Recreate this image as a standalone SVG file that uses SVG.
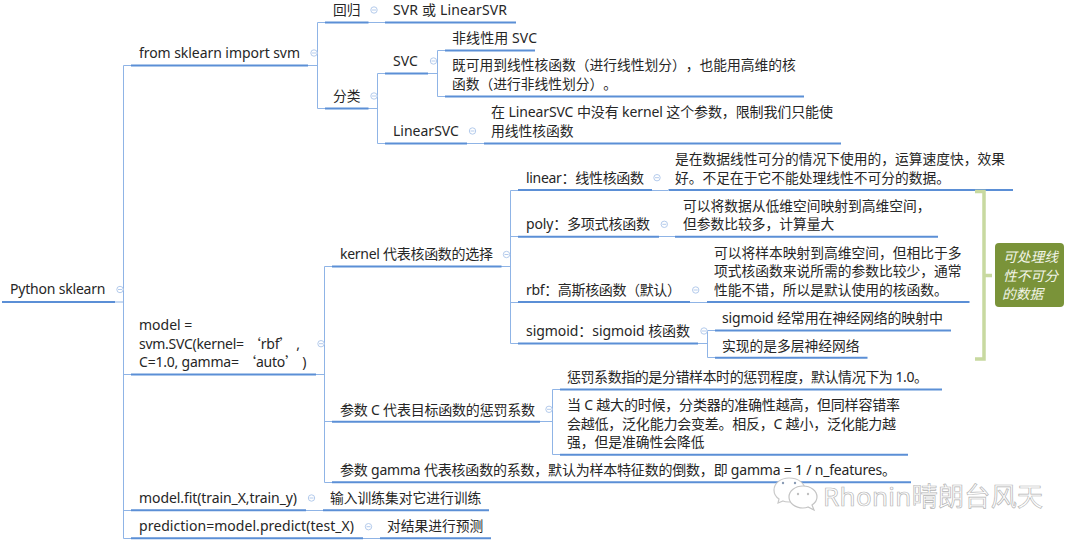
<svg xmlns="http://www.w3.org/2000/svg" width="1080" height="542" viewBox="0 0 1080 542" xml:lang="zh-CN">
<style>
text{font-family:"Noto Sans","Noto Sans CJK SC",sans-serif;font-size:14px;fill:#262626;text-spacing-trim:space-all}
text.z{font-size:13.75px}
.c{font-family:"Noto Sans CJK SC",sans-serif}
.k{stroke:#8fb4e6;stroke-width:1;fill:none}
.u{stroke:#5b8fd6;stroke-width:2;fill:none}
.i{fill:#fff;stroke:#b4cbec;stroke-width:1}
.m{stroke:#b4cbec;stroke-width:1}
.b{stroke:#c8d9a0;stroke-width:3.500;fill:none}
text.n{font-size:13.75px;fill:#f2f5e8;font-style:italic}
text.w{font-size:26px;fill:#fff;stroke:#b5b5b5;stroke-width:.7}
</style>
<defs><g id="tg"><circle class="i" r="3.2"/><path class="m" d="M-2 0H2"/></g></defs>
<rect width="1080" height="542" fill="#fff"/>
<g id="connectors">
<path class="k" d="M115 302H123.500M131 65.500H123.500V538.500H131M123.500 374.500H131M123.500 510.500H131"/>
<path class="k" d="M308 65.500H317.500M325 22.500H317.500V108.500H325M368 22.500H385M368 108.500H377.500M385 73.500H377.500V143.500H385M428 73.500H437.500M445 50.500H437.500V96.500H445M467 143.500H484"/>
<path class="k" d="M316 374.500H324.500M332 266.500H324.500V482.500H332M324.500 421.500H332"/>
<path class="k" d="M501 266.500H510.500M518 190.500H510.500V343.500H518M510.500 236.500H518M510.500 302.500H518"/>
<path class="k" d="M652 190.500H668M659 236.500H675M690 302.500H707M698 343.500H707.500M715 330.500H707.500V357.500H715"/>
<path class="k" d="M540 421.500H552.500M560 389.500H552.500V454.500H560M306 510.500H323M363 538.500H380"/>
</g>
<g id="root"><path class="u" d="M2 302H115"/><text x="10" y="294" textLength="95.500">Python sklearn</text><use href="#tg" x="120" y="289.500"/></g>
<g id="n-import"><path class="u" d="M131 65.500H308"/><text x="139" y="58" textLength="161">from sklearn import svm</text><use href="#tg" x="314" y="53"/></g>
<g id="n-reg"><path class="u" d="M325 22.500H368.500"/><text class="z" x="333" y="15">回归</text><use href="#tg" x="374" y="10"/></g>
<g id="n-reg-d"><path class="u" d="M385 22.500H516"/><text x="393" y="15" textLength="114">SVR 或 LinearSVR</text></g>
<g id="n-cls"><path class="u" d="M325 108.500H368.500"/><text class="z" x="333" y="101">分类</text><use href="#tg" x="374" y="96"/></g>
<g id="n-svc"><path class="u" d="M385 73.500H428"/><text x="393" y="66">SVC</text><use href="#tg" x="433.500" y="61"/></g>
<g id="n-svc-a"><path class="u" d="M445 50.500H535"/><text x="452" y="43" textLength="85">非线性用 SVC</text></g>
<g id="n-svc-b"><path class="u" d="M445 96.500H804"/><text class="z" x="452" y="70.300">既可用到线性核函数（进行线性划分），也能用高维的核</text><text class="z" x="452" y="89">函数（进行非线性划分）。</text></g>
<g id="n-lsvc"><path class="u" d="M385 143.500H467"/><text x="393" y="136">LinearSVC</text><use href="#tg" x="472.500" y="131"/></g>
<g id="n-lsvc-d"><path class="u" d="M484 143.500H841"/><text x="491" y="117.300" textLength="342">在 LinearSVC 中没有 kernel 这个参数，限制我们只能使</text><text class="z" x="491" y="136">用线性核函数</text></g>
<g id="n-model"><path class="u" d="M131 374.500H316"/><text x="139" y="330">model =</text><text x="139" y="348.700" textLength="161">svm.SVC(kernel= <tspan class="c">‘</tspan>rbf<tspan class="c">’</tspan> ,</text><text x="139" y="367.300" textLength="167.500">C=1.0, gamma= <tspan class="c">‘</tspan>auto<tspan class="c">’</tspan> )</text><use href="#tg" x="321" y="343.700"/></g>
<g id="n-kernel"><path class="u" d="M332 266.500H501.500"/><text x="340" y="259" textLength="153">kernel 代表核函数的选择</text><use href="#tg" x="506.500" y="254.500"/></g>
<g id="n-linear"><path class="u" d="M518 190H652"/><text x="526" y="182.500" textLength="118">linear：线性核函数</text><use href="#tg" x="657" y="177.700"/></g>
<g id="n-linear-d"><path class="u" d="M668.500 190H1013"/><text class="z" x="675" y="164">是在数据线性可分的情况下使用的，运算速度快，效果</text><text class="z" x="675" y="182.500">好。不足在于它不能处理线性不可分的数据。</text></g>
<g id="n-poly"><path class="u" d="M518 236.700H659"/><text x="526" y="229" textLength="124">poly：多项式核函数</text><use href="#tg" x="664.300" y="224.300"/></g>
<g id="n-poly-d"><path class="u" d="M675 236.700H938"/><text class="z" x="683" y="210.500">可以将数据从低维空间映射到高维空间，</text><text class="z" x="683" y="229">但参数比较多，计算量大</text></g>
<g id="n-rbf"><path class="u" d="M518 302H690"/><text x="526" y="295" textLength="155">rbf：高斯核函数（默认）</text><use href="#tg" x="695.700" y="290"/></g>
<g id="n-rbf-d"><path class="u" d="M707 302H969.500"/><text class="z" x="714" y="257.500">可以将样本映射到高维空间，但相比于多</text><text class="z" x="714" y="276">项式核函数来说所需的参数比较少，通常</text><text class="z" x="714" y="294.700">性能不错，所以是默认使用的核函数。</text></g>
<g id="n-sig"><path class="u" d="M518 343.500H698"/><text x="526" y="336" textLength="164">sigmoid：sigmoid 核函数</text><use href="#tg" x="704" y="331"/></g>
<g id="n-sig-a"><path class="u" d="M715 330.500H951"/><text x="722" y="323" textLength="221">sigmoid 经常用在神经网络的映射中</text></g>
<g id="n-sig-b"><path class="u" d="M715 357.700H867.500"/><text class="z" x="722" y="350.500">实现的是多层神经网络</text></g>
<g id="n-c"><path class="u" d="M332 421.700H540"/><text x="340" y="414.500" textLength="195">参数 C 代表目标函数的惩罚系数</text><use href="#tg" x="549" y="409.300"/></g>
<g id="n-c-a"><path class="u" d="M560 389.500H942"/><text x="567" y="382" textLength="361">惩罚系数指的是分错样本时的惩罚程度，默认情况下为 1.0。</text></g>
<g id="n-c-b"><path class="u" d="M560 454.700H908"/><text x="567" y="410" textLength="333">当 C 越大的时候，分类器的准确性越高，但同样容错率</text><text x="567" y="428.700" textLength="329">会越低，泛化能力会变差。相反，C 越小，泛化能力越</text><text class="z" x="567" y="447.300">强，但是准确性会降低</text></g>
<g id="n-gamma"><path class="u" d="M332 482.300H911"/><text x="340" y="475" textLength="556">参数 gamma 代表核函数的系数，默认为样本特征数的倒数，即 gamma = 1 / n_features。</text></g>
<g id="n-fit"><path class="u" d="M131 510.300H306"/><text x="139" y="503" textLength="158">model.fit(train_X,train_y)</text><use href="#tg" x="311.500" y="498"/></g>
<g id="n-fit-d"><path class="u" d="M323 510.300H489"/><text class="z" x="330" y="503">输入训练集对它进行训练</text></g>
<g id="n-pred"><path class="u" d="M131 538.300H363"/><text x="139" y="531" textLength="215">prediction=model.predict(test_X)</text><use href="#tg" x="368.500" y="526.700"/></g>
<g id="n-pred-d"><path class="u" d="M380 538.300H491"/><text class="z" x="387" y="531">对结果进行预测</text></g>
<g id="summary">
<path class="b" d="M975 191.500H984V359H975M984 275.500H992"/>
<rect x="995" y="243" width="69" height="64" rx="4" fill="#7a9339"/>
<text class="n" x="1003" y="262">可处理线</text><text class="n" x="1003" y="280.500">性不可分</text><text class="n" x="1002" y="299">的数据</text>
</g>
<g id="watermark">
<path d="M789 478C781 478 774 483 774 490C774 494 776 497 779 499L778 503L783 501C785 502 787 502 789 502C799 502 805 496 805 490C805 483 798 478 789 478Z" fill="#fff" stroke="#c9c9c9" stroke-width="1.200"/>
<path d="M803 486C811 486 817 491 817 497C817 500 815 503 812 505L814 510L808 507C806 508 804 508 803 508C795 508 789 503 789 497C789 491 795 486 803 486Z" fill="#fff" stroke="#c4c4c4" stroke-width="1.200"/>
<circle cx="783" cy="483" r="1.200" fill="#8a9bb5"/><circle cx="795" cy="483" r="1.200" fill="#8a9bb5"/><circle cx="798" cy="494" r="1.200" fill="#c0c0c0"/><circle cx="808" cy="494" r="1.200" fill="#c0c0c0"/>
<text class="w" x="823" y="506" textLength="220">Rhonin晴朗台风天</text>
</g>
</svg>
